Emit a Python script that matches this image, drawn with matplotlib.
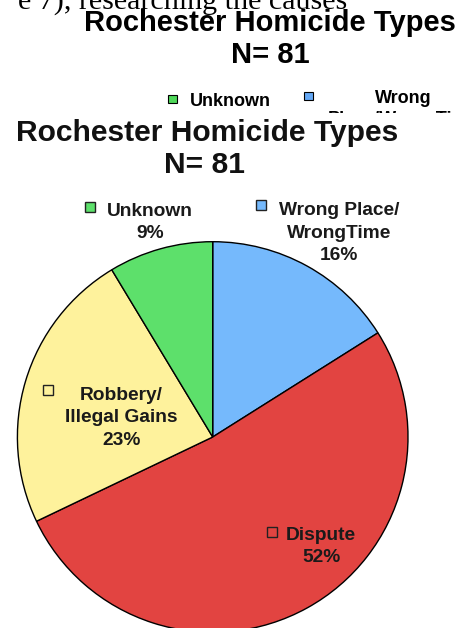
import matplotlib
matplotlib.use('Agg')
import matplotlib.pyplot as plt
from matplotlib.patches import Rectangle

# data
categories = ['Wrong Place/\nWrongTime', 'Dispute', 'Robbery/\nIllegal Gains', 'Unknown']
counts = [13, 42, 19, 7]
colors = ['#75b9fc', '#e24441', '#fef29c', '#5de06b']
title = 'Rochester Homicide Types'
n_total = sum(counts)
pcts = [f'{round(100 * c / n_total)}%' for c in counts]

W, H = 471, 628
fig = plt.figure(figsize=(W / 100, H / 100), dpi=100)

def px_axes(z):
    ax = fig.add_axes([0, 0, 1, 1], zorder=z)
    ax.set_xlim(0, W)
    ax.set_ylim(H, 0)
    ax.axis('off')
    ax.patch.set_alpha(0)
    return ax

# bottom layer: page text + vector chart header (partly hidden by the image)
ax0 = px_axes(0)
ax0.text(347, 8.5, 'e 7), researching the causes', ha='right', va='baseline',
         fontsize=21.6, family='Liberation Serif', color='black')
ax0.text(270, 31, title, ha='center', va='baseline', fontsize=21,
         fontweight='bold', family='Liberation Sans')
ax0.text(270, 63, f'N= {n_total}', ha='center', va='baseline', fontsize=21,
         fontweight='bold', family='Liberation Sans')
ax0.add_patch(Rectangle((168, 95), 9, 8, facecolor='#4fd85a', edgecolor='black', lw=0.8))
ax0.text(190, 106, 'Unknown', ha='left', va='baseline', fontsize=13,
         fontweight='bold', family='Liberation Sans')
ax0.text(230, 127, pcts[3], ha='center', va='baseline', fontsize=13,
         fontweight='bold', family='Liberation Sans')
ax0.add_patch(Rectangle((304, 92), 9, 8, facecolor='#64a8f5', edgecolor='black', lw=0.8))
ax0.text(403, 103, 'Wrong', ha='center', va='baseline', fontsize=13,
         fontweight='bold', family='Liberation Sans')
ax0.text(403, 124, 'Place/WrongTime', ha='center', va='baseline', fontsize=13,
         fontweight='bold', family='Liberation Sans')
# pasted chart image background
ax0.add_patch(Rectangle((0, 113), W, H - 113, facecolor='white', edgecolor='none', zorder=5))

# pie
cx, cy, r = 212.7, 437, 195.3
axp = fig.add_axes([(cx - r) / W, 1 - (cy + r) / H, 2 * r / W, 2 * r / H], zorder=1)
axp.pie(counts, colors=colors, startangle=90, counterclock=False, radius=1,
        wedgeprops=dict(edgecolor='black', linewidth=1.0))
axp.set_xlim(-1, 1)
axp.set_ylim(-1, 1)
axp.axis('off')
axp.patch.set_alpha(0)

# top layer: image title and slice labels
ax1 = px_axes(2)
ax1.text(207.5, 141, title, ha='center', va='baseline', fontsize=21.6,
         fontweight='bold', family='Liberation Sans', color='#111111')
ax1.text(205, 173, f'N= {n_total}', ha='center', va='baseline', fontsize=21.6,
         fontweight='bold', family='Liberation Sans', color='#111111')

# label layout: (text center x, first baseline y, square x, square y)
label_pos = [(339, 215, 256, 200), (321, 540, 267, 527), (121.5, 400, 43, 385), (150, 216, 85, 202)]
line_gap = 22.5
for cat, pct, col, (tx, ty, sx, sy) in zip(categories, pcts, colors, label_pos):
    lines = cat.split('\n') + [pct]
    for i, line in enumerate(lines):
        ax1.text(tx, ty + i * line_gap, line, ha='center', va='baseline', fontsize=13.8,
                 fontweight='bold', family='Liberation Sans', color='#1a1a1a')
    ax1.add_patch(Rectangle((sx, sy), 10, 9.5, facecolor=col, edgecolor='#222222', lw=1.0))

fig.savefig('out.png', dpi=100)
